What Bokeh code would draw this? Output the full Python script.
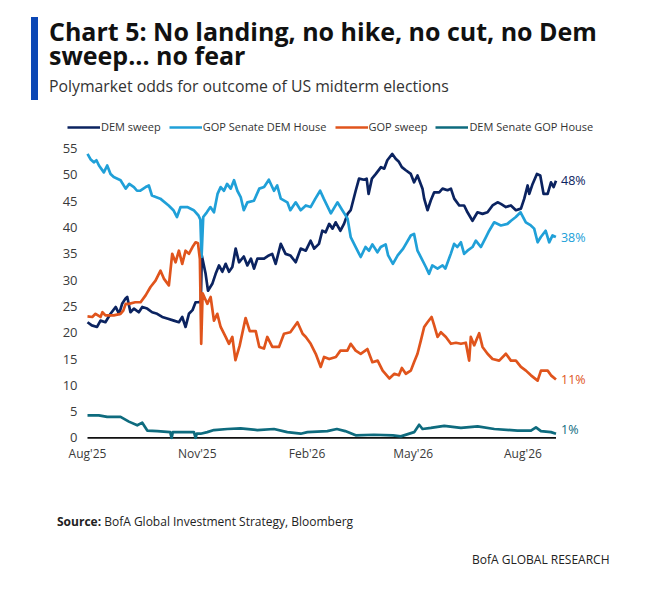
import pandas as pd
from bokeh.plotting import figure
from bokeh.models import (Range1d, FixedTicker, DatetimeTickFormatter, Legend,
                          LegendItem, Div, ColumnDataSource)
from bokeh.layouts import column
from bokeh.embed import file_html
from bokeh.resources import INLINE
from bokeh.core.properties import value

# ---------------- data (day offset from 1 Aug 2025, odds %) ----------------
START = "2025-08-01"

dem_sweep = [(0, 22.0), (3.6, 21.4), (8, 21.1), (10.9, 22.3), (15, 22.0), (19.3, 23.6), (23.6, 24.9),
             (26.5, 23.6), (29, 25.5), (31.9, 26.5), (33.3, 26.8), (36, 23.9), (38.9, 24.6), (43, 23.9),
             (45.9, 24.9), (50, 24.6), (54.2, 23.9), (58.4, 23.6), (62.6, 23.0), (66.8, 22.7), (72.4, 22.3),
             (76.6, 22.0), (79.4, 23.0), (82.2, 21.1), (85, 23.6), (88, 24.3), (90.6, 25.8), (93.4, 25.8),
             (95.0, 26.0), (95.8, 34.7), (99, 31.2), (101, 28.0), (104.6, 29.3), (107.4, 31.2), (110.2, 32.8),
             (113, 31.6), (115.8, 33.1), (118.6, 31.6), (121.4, 32.5), (124.2, 36.0), (127, 33.4), (131, 34.5),
             (134, 32.8), (137, 34.1), (139.6, 32.2), (142.4, 34.1), (148, 34.1), (152, 34.7), (154.8, 35.0),
             (157.7, 33.1), (162, 36.9), (166, 35.0), (170, 34.7), (174.5, 33.4), (178.7, 36.0), (183, 35.6),
             (187, 37.5), (190, 36.0), (194, 36.9), (196.8, 39.4), (199.6, 39.1), (202.6, 40.7), (205.4, 39.8),
             (208, 41.0), (212, 39.4), (215, 40.7), (218, 42.6), (220.6, 43.3), (224.8, 47.0), (227.6, 49.3),
             (231.8, 49.1), (234, 49.3), (235.6, 46.4), (238.4, 49.3), (241.7, 50.2), (246, 51.5), (248.7, 51.2),
             (251.3, 52.8), (255.5, 54.0), (258.3, 53.1), (261, 52.5), (263.5, 51.5), (266.8, 50.9), (271, 50.2),
             (273.7, 48.6), (276.6, 49.9), (280.8, 47.4), (282.2, 45.5), (285, 43.3), (287.8, 45.2), (290.6, 46.7),
             (294.8, 46.7), (297.6, 47.4), (301.8, 47.1), (304.6, 47.4), (307.4, 45.5), (311.6, 44.2),
             (315.7, 44.2), (318.5, 42.9), (322.7, 41.3), (326.9, 42.9), (331.1, 42.6), (335.3, 42.9),
             (339.5, 44.2), (343.7, 44.8), (346.5, 44.5), (350.7, 43.9), (354.9, 44.2), (359.1, 43.3),
             (363.3, 43.6), (366.1, 45.5), (368.9, 48.0), (370.3, 46.4), (373.1, 48.3), (376.7, 50.2),
             (379.5, 49.9), (382.3, 46.4), (385.7, 46.4), (388.5, 48.6), (390.7, 47.7), (392.7, 48.9)]

gop_senate_dem_house = [(0, 54.0), (2.5, 53.0), (5.3, 52.4), (7.5, 52.8), (9.6, 51.8), (13.7, 50.5), (16.5, 51.8),
             (19.3, 50.2), (22, 49.6), (27.7, 49.0), (32, 47.4), (35, 48.3), (38.9, 47.7), (41.5, 47.0),
             (44, 47.0), (48.7, 47.7), (51.4, 48.0), (54, 46.1), (61, 45.5), (68, 44.2), (72, 43.3), (75, 42.0),
             (78, 43.9), (83.6, 43.9), (89, 43.3), (93, 42.3), (94.6, 41.5), (95.6, 34.4), (97, 42.0),
             (100, 42.9), (103, 43.9), (106, 42.9), (109, 46.4), (111.6, 47.7), (114.4, 47.0), (117, 48.3),
             (120, 47.4), (122.8, 49.0), (125.6, 47.0), (128.4, 45.8), (131, 43.3), (134, 44.8), (139.5, 45.1),
             (144, 47.4), (148, 47.7), (152, 49.1), (156.3, 47.0), (159, 48.0), (162, 45.5), (167.5, 44.8),
             (170, 43.3), (174.5, 44.8), (178.7, 43.3), (183, 44.2), (187, 43.9), (191, 45.5), (195, 47.0),
             (198, 45.5), (204, 42.7), (209.5, 44.8), (213.6, 43.3), (218, 41.7), (220.6, 38.2), (224.8, 36.3),
             (229, 34.4), (233, 36.3), (236, 35.6), (238.8, 36.8), (243, 35.3), (245.8, 36.3), (249.9, 36.8),
             (252, 34.7), (256, 33.1), (260, 34.7), (264.6, 36.0), (271, 38.5), (273.7, 38.8), (276.6, 35.6),
             (279.4, 34.4), (283.6, 32.5), (286.3, 31.2), (289, 32.8), (293.4, 32.2), (297.6, 32.8), (300, 32.2),
             (304.5, 35.0), (307.3, 36.9), (310, 36.3), (313, 37.2), (315.7, 35.0), (318.5, 35.6), (322.7, 36.3),
             (325.5, 37.5), (329.7, 36.3), (334, 38.2), (336.7, 39.4), (340.9, 41.0), (346.5, 40.4), (352, 40.7),
             (355, 41.3), (359, 42.0), (363, 42.9), (367.4, 41.0), (371.6, 40.4), (374.4, 39.8), (377.3, 37.2),
             (380, 38.2), (384, 39.4), (387, 37.2), (389.8, 38.5), (392.6, 38.2)]

gop_sweep = [(0, 23.1), (4, 23.0), (6.7, 23.6), (10.9, 23.0), (12.5, 23.9), (15, 23.3), (22, 23.3), (27.7, 23.6),
             (30, 24.2), (32, 25.5), (34.7, 25.5), (40, 25.8), (44.5, 25.8), (48.7, 27.1), (52.8, 28.7),
             (57, 29.9), (61.2, 31.8), (64, 30.3), (68.2, 29.0), (71, 35.0), (73.8, 33.4), (76.6, 35.6),
             (79.4, 33.1), (82.2, 35.6), (85, 35.0), (88, 36.3), (90.6, 37.2), (92.6, 37.0), (94.2, 34.0),
             (95.3, 17.9), (96.5, 27.5), (100.4, 25.5), (103.2, 26.8), (106, 22.3), (108.8, 23.6), (111.6, 21.1),
             (115.8, 19.2), (118.6, 17.9), (121.4, 19.2), (124, 14.8), (127.5, 17.5), (132.5, 22.8), (136, 20.3),
             (141, 20.3), (144, 17.3), (147.9, 17.0), (150.7, 19.2), (154.9, 17.3), (160.5, 17.3), (164.7, 19.8),
             (170, 20.1), (176, 22.0), (180.3, 19.8), (183, 19.2), (187.1, 17.9), (191.3, 16.0), (195.5, 13.5),
             (198.3, 15.4), (202.6, 15.0), (208.2, 15.4), (212, 16.6), (217.8, 16.6), (220.6, 17.9), (224.8, 16.6),
             (229, 16.0), (234.6, 16.9), (238.8, 14.4), (243.2, 14.7), (247.4, 12.8), (253, 11.3), (257.2, 12.2),
             (261, 11.9), (263.5, 13.3), (266.8, 12.2), (271, 12.8), (273.7, 14.4), (276.6, 16.0), (279.4, 18.5),
             (282.2, 21.1), (285, 22.0), (288.4, 23.0), (290.6, 21.4), (293.4, 19.2), (296.2, 20.1), (300.4, 19.2),
             (304.6, 17.9), (308.8, 18.1), (313, 17.9), (317.1, 18.1), (319.9, 14.7), (321.3, 19.2), (324.1, 17.6),
             (328.3, 19.9), (331.1, 17.3), (335.3, 16.0), (339.5, 15.0), (345.1, 14.7), (350.7, 16.0),
             (354.9, 14.7), (359.1, 14.7), (363.3, 13.5), (367.5, 12.8), (371.7, 11.9), (377.3, 10.9),
             (380.1, 12.8), (385.7, 12.8), (388.5, 11.9), (392.7, 11.1)]

dem_senate_gop_house = [(0, 4.3), (9.5, 4.3), (16.5, 4.0), (27.7, 4.0), (34.7, 3.1), (41.7, 2.4), (45.9, 2.9),
             (50.1, 1.4), (58.5, 1.3), (69.3, 1.1), (70.5, 0.0), (71.5, 1.1), (78, 1.1), (89.2, 1.1), (90.6, 0.0),
             (91.6, 0.8), (94.8, 0.8), (100.4, 1.1), (106, 1.5), (117.2, 1.7), (128.3, 1.8), (142.3, 1.5),
             (156.3, 1.7), (167.5, 1.1), (178.7, 0.8), (184.3, 1.1), (201, 1.3), (209, 1.7), (216, 1.3),
             (224.8, 0.5), (240, 0.6), (256, 0.5), (262.6, 0.3), (273.8, 1.1), (278, 2.5), (280.8, 1.7),
             (287.8, 1.9), (299, 2.3), (313, 1.9), (327, 2.2), (341, 1.7), (360.4, 1.4), (371.7, 1.4),
             (375.9, 2.0), (380.1, 1.3), (388.5, 1.1), (392.7, 0.8)]

series_names = ["DEM sweep", "GOP Senate DEM House", "GOP sweep", "DEM Senate GOP House"]
end_labels = ["48%", "38%", "11%", "1%"]
y_ticks = [0, 5, 10, 15, 20, 25, 30, 35, 40, 45, 50, 55]
x_tick_dates = ["2025-08-01", "2025-11-01", "2026-02-01", "2026-05-01", "2026-08-01"]
x_tick_labels = ["Aug'25", "Nov'25", "Feb'26", "May'26", "Aug'26"]
title_text = "Chart 5: No landing, no hike, no cut, no Dem\nsweep... no fear"
subtitle_text = "Polymarket odds for outcome of US midterm elections"

# ---------------- styling ----------------
colors = ["#0b2360", "#20a0d8", "#e0541c", "#0e6b7e"]
label_dy = [0, 0, 0, -4]
FONT = "Open Sans"

start = pd.Timestamp(START)


def to_dates(pairs):
    return [start + pd.Timedelta(days=d) for d, _ in pairs]


all_series = [dem_sweep, gop_senate_dem_house, gop_sweep, dem_senate_gop_house]

p = figure(width=634, height=380, x_axis_type="datetime",
           x_range=Range1d(start - pd.Timedelta(days=16.77), start + pd.Timedelta(days=430.0)),
           y_range=Range1d(-0.3, 61.5),
           output_backend="svg", toolbar_location=None,
           min_border_left=59, min_border_right=42, min_border_top=14, min_border_bottom=41,
           outline_line_color=None, background_fill_color="white", border_fill_color="white")
p.xgrid.visible = False
p.ygrid.visible = False

# baseline at zero spanning the data period
first_d = to_dates(dem_sweep)[0]
last_d = to_dates(dem_sweep)[-1]
p.line(x=[first_d, last_d], y=[0, 0], line_color="#111111", line_width=1.6)

renderers = []
for pairs, name, col in zip(all_series, series_names, colors):
    src = ColumnDataSource(dict(x=to_dates(pairs), y=[v for _, v in pairs]))
    r = p.line("x", "y", source=src, line_color=col, line_width=2.7, line_join="round")
    renderers.append(r)

for pairs, lab, col, dy in zip(all_series, end_labels, colors, label_dy):
    p.text(x=[to_dates(pairs)[-1]], y=[pairs[-1][1]], text=[lab], text_color=col,
           text_font=value(FONT), text_font_size="12.5px", text_align="left",
           text_baseline="middle", x_offset=5, y_offset=dy)

legend = Legend(items=[LegendItem(label=n, renderers=[r]) for n, r in zip(series_names, renderers)],
                orientation="horizontal", location=(0, 305),
                glyph_width=33, glyph_height=14, label_height=14, label_standoff=1, spacing=8,
                padding=0, margin=0, border_line_color=None, background_fill_alpha=0,
                label_text_font=FONT, label_text_font_size="11px", label_text_color="#333333")
p.add_layout(legend)

# axes
tick_ms = [int(pd.Timestamp(d).value // 10**6) for d in x_tick_dates]
p.xaxis.ticker = FixedTicker(ticks=tick_ms)
p.xaxis.formatter = DatetimeTickFormatter(days="%b'%y", months="%b'%y", years="%b'%y")
p.xaxis.major_label_overrides = {t: l for t, l in zip(tick_ms, x_tick_labels)}
p.yaxis.ticker = FixedTicker(ticks=y_ticks)
for ax in (p.xaxis, p.yaxis):
    ax.axis_line_color = None
    ax.major_tick_line_color = None
    ax.minor_tick_line_color = None
    ax.major_tick_out = 0
    ax.major_tick_in = 0
    ax.minor_tick_out = 0
    ax.major_label_text_font = FONT
    ax.major_label_text_color = "#3a3a3a"
p.xaxis.major_label_text_font_size = "12px"
p.xaxis.major_label_standoff = 5
p.yaxis.major_label_text_font_size = "13px"
p.yaxis.major_label_standoff = -10

header_html = f"""
<div style="position:relative;width:634px;height:92px;">
  <div style="position:absolute;left:23px;top:9px;width:7px;height:83px;background:#0b47b5;"></div>
  <div style="position:absolute;left:41px;top:11px;font-family:'Open Sans';font-weight:700;font-size:25px;
              line-height:24px;color:#111111;white-space:pre;">{title_text}</div>
  <div style="position:absolute;left:41px;top:68px;font-family:'Open Sans';font-size:15.8px;line-height:20px;
              color:#333333;white-space:nowrap;">{subtitle_text}</div>
</div>
"""
footer_html = """
<div style="position:relative;width:634px;height:108px;">
  <div style="position:absolute;left:49px;top:34px;font-family:'Open Sans';font-size:12px;line-height:16px;
              color:#222222;white-space:nowrap;"><b>Source:</b> BofA Global Investment Strategy, Bloomberg</div>
  <div style="position:absolute;left:464px;top:72px;font-family:'Open Sans';font-size:12px;line-height:16px;
              color:#222222;white-space:nowrap;">BofA GLOBAL RESEARCH</div>
</div>
"""
header = Div(text=header_html, width=634, height=92, margin=(0, 0, 0, 0))
footer = Div(text=footer_html, width=634, height=108, margin=(0, 0, 0, 0))
p.margin = (0, 0, 0, 0)

layout = column(header, p, footer, spacing=0, margin=(8, 0, 0, 8))
open("out.html", "w").write(file_html(layout, INLINE))
